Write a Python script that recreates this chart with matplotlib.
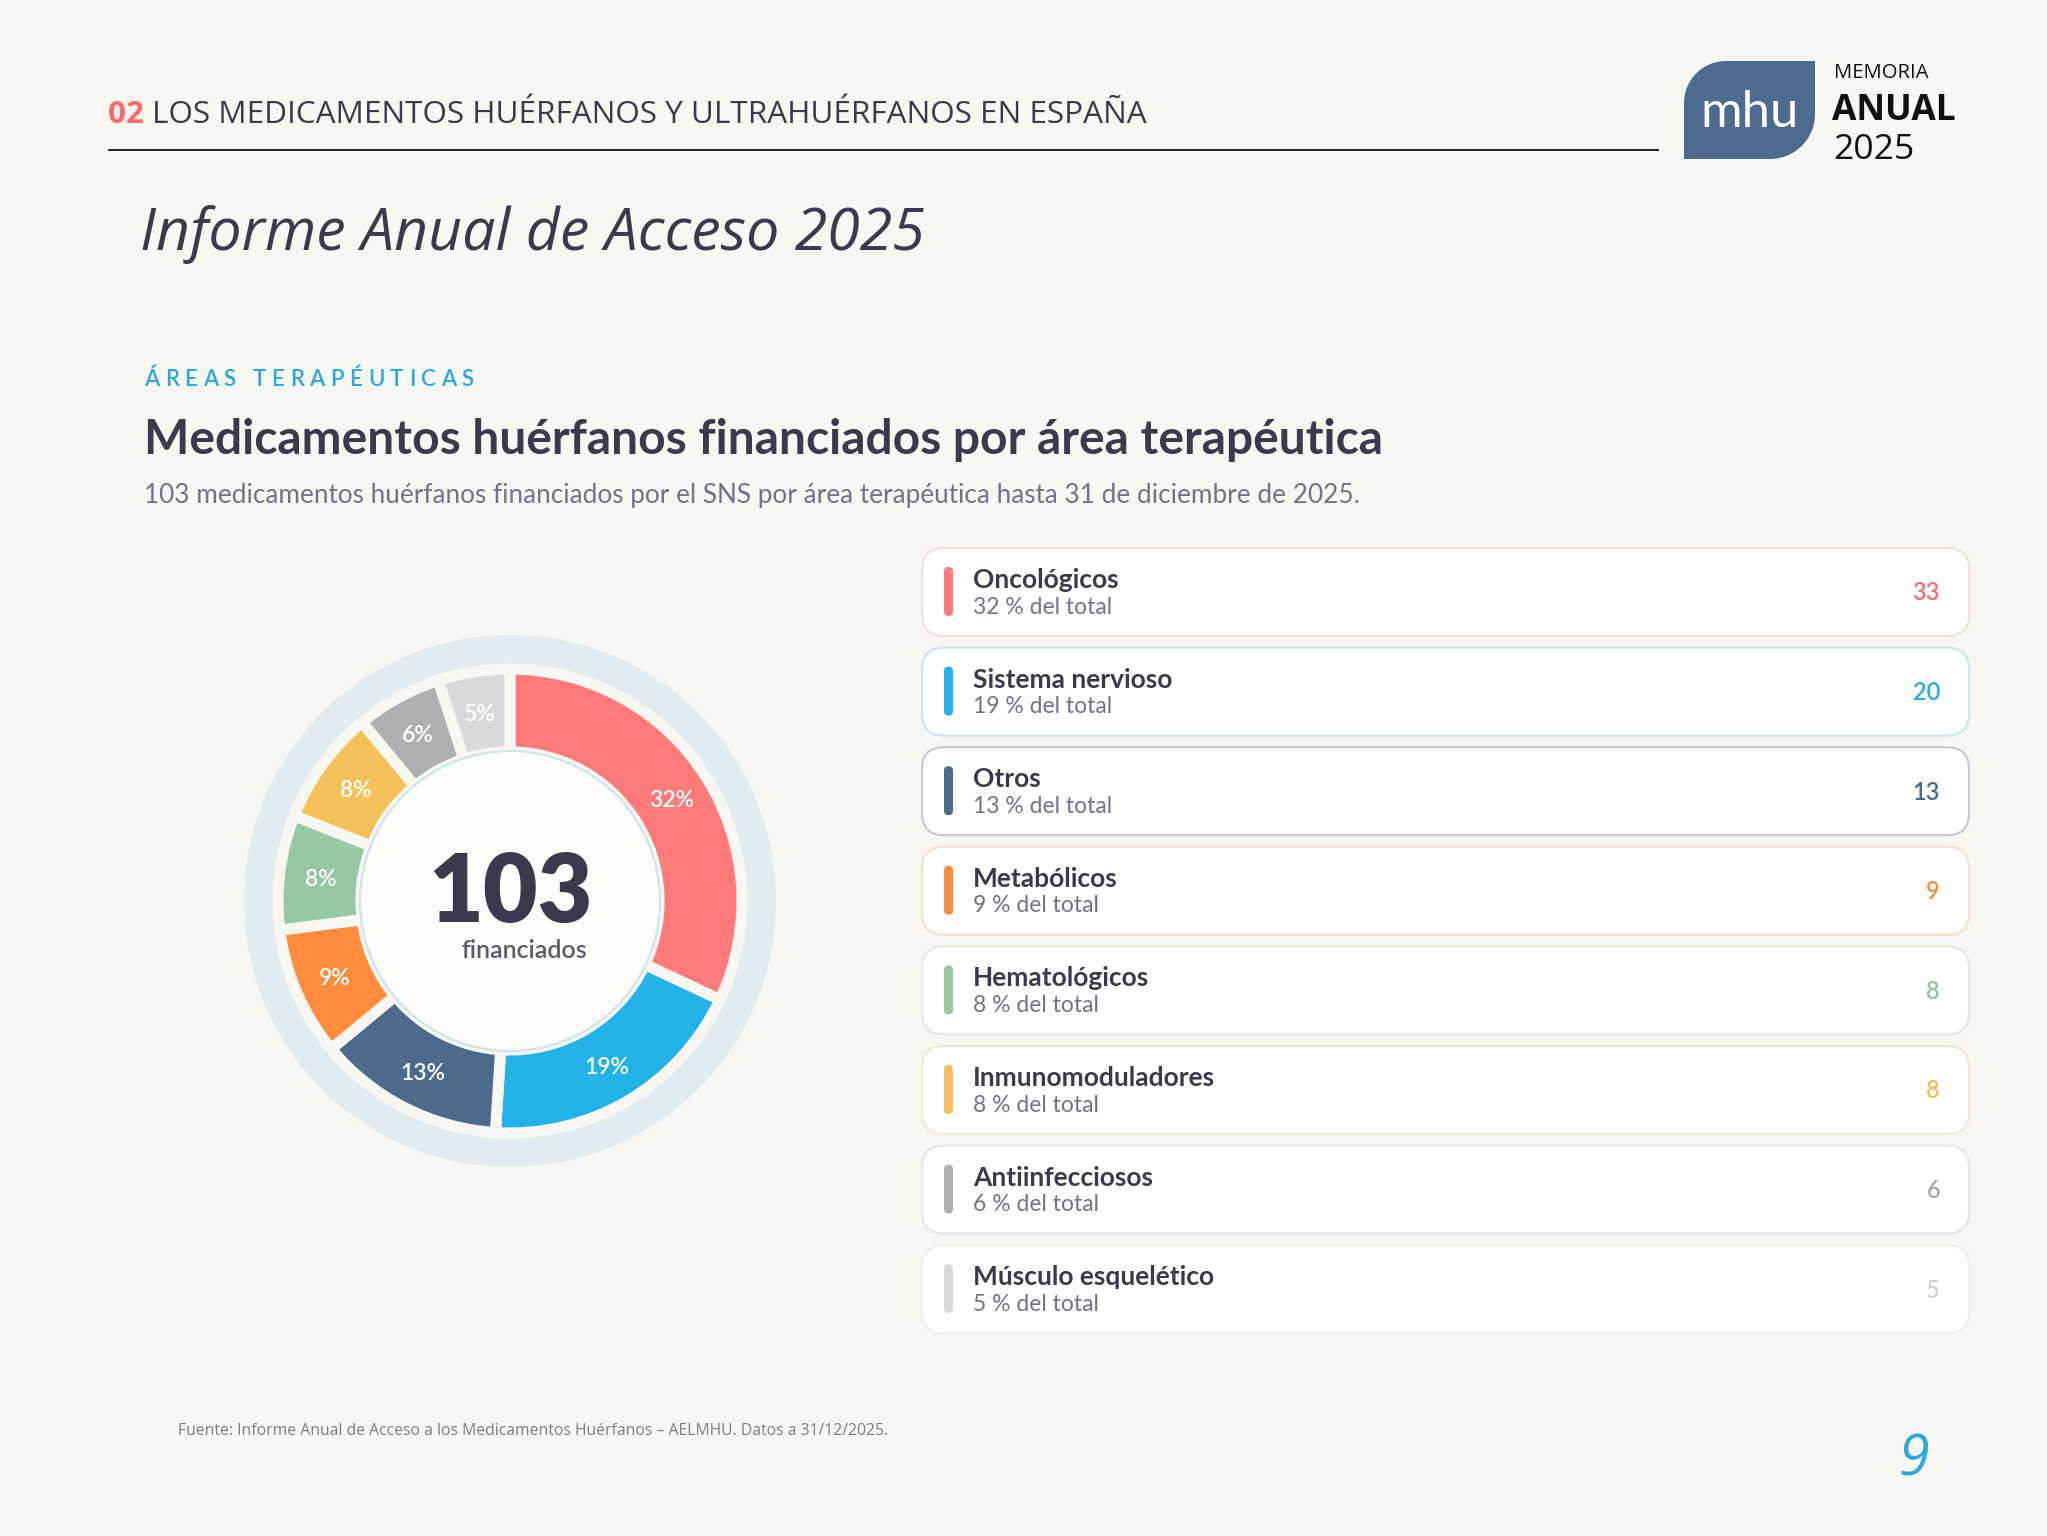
import matplotlib
matplotlib.use("Agg")
import matplotlib.pyplot as plt
from matplotlib.patches import FancyBboxPatch, Circle, Wedge, PathPatch
from matplotlib.path import Path
import numpy as np

# ---------------- data ----------------
categories = ["Oncológicos", "Sistema nervioso", "Otros", "Metabólicos",
              "Hematológicos", "Inmunomoduladores", "Antiinfecciosos",
              "Músculo esquelético"]
counts = [33, 20, 13, 9, 8, 8, 6, 5]
shares = [32, 19, 13, 9, 8, 8, 6, 5]          # % del total (as labelled)
total_financed = 103
seg_colors = ["#ff7a7a", "#22b2e6", "#4b6a8c", "#ff8c3c",
              "#97c8a3", "#f5c15a", "#b0b0b2", "#d9d9dd"]
value_colors = ["#f06e6e", "#22aee0", "#4b6a8c", "#ff8a3a",
                "#8fc39d", "#f2bd55", "#a9a9ad", "#d3d3d8"]
card_edges = ["#f3e1dd", "#cde7f1", "#c5ccd6", "#f6e2d2",
              "#e1ece3", "#f5e9d4", "#e7e7e8", "#efefef"]

header_num = "02"
header_txt = "LOS MEDICAMENTOS HUÉRFANOS Y ULTRAHUÉRFANOS EN ESPAÑA"
report_title = "Informe Anual de Acceso 2025"
kicker = "ÁREAS TERAPÉUTICAS"
title = "Medicamentos huérfanos financiados por área terapéutica"
subtitle = ("103 medicamentos huérfanos financiados por el SNS por área "
            "terapéutica hasta 31 de diciembre de 2025.")
source = ("Fuente: Informe Anual de Acceso a los Medicamentos Huérfanos – "
          "AELMHU. Datos a 31/12/2025.")
page_no = "9"

# ---------------- styling ----------------
BG = "#f8f7f2"
DARK = "#3b3a4c"
GREY = "#74728a"
BLUE = "#2aa9df"
W, H = 2047, 1536

fig = plt.figure(figsize=(W / 100, H / 100), dpi=100)
fig.patch.set_facecolor(BG)
ax = fig.add_axes([0, 0, 1, 1])
ax.set_xlim(0, W)
ax.set_ylim(H, 0)
ax.axis("off")

fig.canvas.draw()
R = fig.canvas.get_renderer()


def width_of(t):
    return t.get_window_extent(R).width


def fit(t, target):
    t.set_fontsize(t.get_fontsize() * target / width_of(t))
    return t


# ---------------- header ----------------
t02 = ax.text(108, 123, header_num + " ", color="#ff6b6b", fontsize=22,
              family="Open Sans", weight="bold", va="baseline")
th = ax.text(0, 123, header_txt, color=DARK, fontsize=22,
             family="Open Sans", va="baseline")
full_w = width_of(t02) + width_of(th)
scale = 1037 / full_w
t02.set_fontsize(22 * scale)
th.set_fontsize(22 * scale)
th.set_x(108 + width_of(t02))
ax.plot([108, 1659], [150, 150], color="#222222", lw=1.4,
        solid_capstyle="butt")

# logo
x0, x1, y0, y1 = 1684, 1815, 61, 159
r1, r2 = 42, 45
tt = np.linspace(np.pi, 1.5 * np.pi, 20)
arc1 = np.c_[x0 + r1 + r1 * np.cos(tt), y0 + r1 + r1 * np.sin(tt)]
tt = np.linspace(0, 0.5 * np.pi, 20)
arc2 = np.c_[x1 - r2 + r2 * np.cos(tt), y1 - r2 + r2 * np.sin(tt)]
verts = np.vstack([[[x0, y1]], arc1, [[x1, y0]], arc2, [[x0, y1]]])
ax.add_patch(PathPatch(Path(verts), facecolor="#4d6b8e", edgecolor="none"))
tm = ax.text(1750, 113, "mhu", color="white", fontsize=30, family="Lato",
             weight="normal", ha="center", va="center")
fit(tm, 98)
fit(ax.text(1834, 78, "MEMORIA", color="#111111", fontsize=15,
            family="Open Sans", va="baseline"), 94)
fit(ax.text(1832, 120, "ANUAL", color="#111111", fontsize=28,
            family="Open Sans", weight="bold", va="baseline"), 124)
fit(ax.text(1833, 159, "2025", color="#111111", fontsize=28,
            family="Open Sans", va="baseline"), 81)

# report title
fit(ax.text(140, 250, report_title, color=DARK, fontsize=40,
            family="Open Sans", style="italic", va="baseline"), 784)

# kicker with letter spacing
KFS = 16
ks = ax.text(144, 379, kicker, color=BLUE, fontsize=KFS, family="Lato",
             weight="semibold", va="center")
base_w = width_of(ks)
ks.remove()
track = (330 - base_w) / (len(kicker) - 1)
xk = 144
for ch in kicker:
    c = ax.text(xk, 379, ch, color=BLUE, fontsize=KFS, family="Lato",
                weight="semibold", va="center")
    xk += width_of(c) + track

fit(ax.text(144, 440, title, color=DARK, fontsize=27, family="Lato",
            weight="bold", va="center"), 1241)
fit(ax.text(144, 496, subtitle, color=GREY, fontsize=15, family="Lato",
            va="center"), 1214)

# footer
fit(ax.text(178, 1431, source, color="#7d7d80", fontsize=11,
            family="Open Sans", va="center"), 713)
ax.text(1914, 1461, page_no, color=BLUE, fontsize=40, family="Open Sans",
        style="italic", ha="center", va="center")

# ---------------- donut ----------------
cx, cy, half = 510, 901, 300
axd = fig.add_axes([(cx - half) / W, (H - cy - half) / H,
                    2 * half / W, 2 * half / H])
axd.set_facecolor("none")
axd.add_patch(Wedge((0, 0), 266, 0, 360, width=29, facecolor="#e1edf0",
                    edgecolor="none"))
wedges, _ = axd.pie(shares, colors=seg_colors, radius=232, startangle=90,
                    counterclock=False,
                    wedgeprops=dict(width=83, edgecolor=BG, linewidth=8))
axd.add_patch(Circle((0, 0), 150, facecolor="#fdfcf9", edgecolor="#cfe5ed",
                     linewidth=1.6, zorder=3))
axd.set_xlim(-half, half)
axd.set_ylim(-half, half)
axd.set_aspect("equal")
axd.axis("off")

for w, p in zip(wedges, shares):
    mid = np.deg2rad((w.theta1 + w.theta2) / 2)
    axd.text(191 * np.cos(mid), 191 * np.sin(mid) - 2, f"{p}%",
             color="white", fontsize=16.5, family="Lato", weight="semibold",
             ha="center", va="center", zorder=4)

axd.text(0, -21, str(total_financed), color=DARK, fontsize=68,
         family="Lato", weight="heavy", ha="center", va="baseline", zorder=4)
axd.text(14, -57, "financiados", color="#5d5b6e", fontsize=18,
         family="Lato", weight="semibold", ha="center", va="baseline",
         zorder=4)

# ---------------- legend cards ----------------
card_x0, card_x1, card_h, step, top0 = 922, 1969, 88, 99.6, 548
for i, (cat, n, p) in enumerate(zip(categories, counts, shares)):
    top = top0 + i * step
    ax.add_patch(FancyBboxPatch((card_x0, top), card_x1 - card_x0, card_h,
                                boxstyle="round,pad=0,rounding_size=22",
                                facecolor="#ffffff", edgecolor=card_edges[i],
                                linewidth=1.6))
    ax.add_patch(FancyBboxPatch((944, top + 19), 9, 49,
                                boxstyle="round,pad=0,rounding_size=4.5",
                                facecolor=seg_colors[i], edgecolor="none"))
    ax.text(973, top + 32, cat, color=DARK, fontsize=19, family="Lato",
            weight="bold", va="center")
    ax.text(973, top + 59, f"{p} % del total",
            color=GREY, fontsize=16.5, family="Lato", va="center")
    ax.text(1940, top + 45, str(n), color=value_colors[i], fontsize=17,
            family="Lato", weight="semibold", ha="right", va="center")

fig.savefig("out.png", dpi=100, facecolor=BG)
